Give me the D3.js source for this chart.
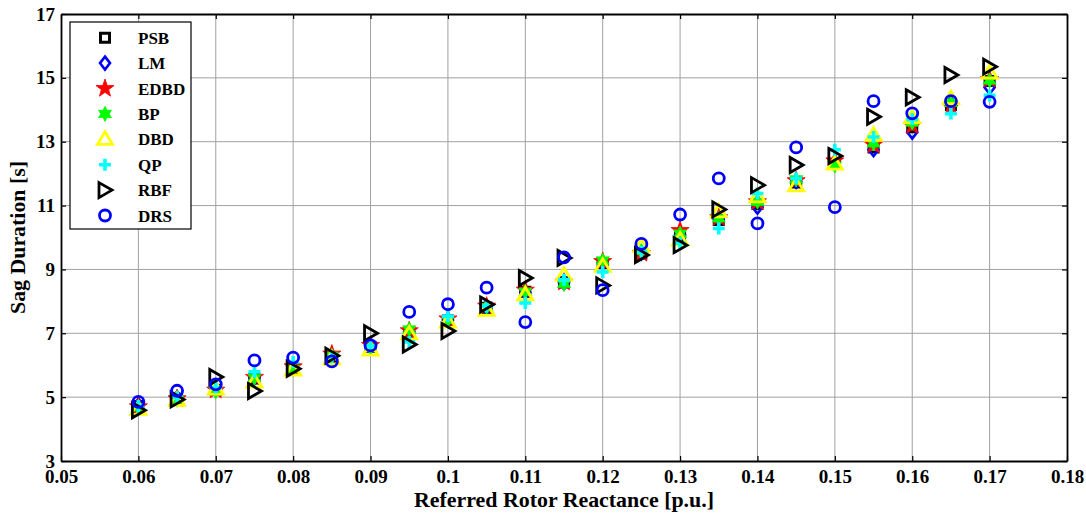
<!DOCTYPE html>
<html>
<head>
<meta charset="utf-8">
<script src="https://cdn.jsdelivr.net/npm/d3@7"></script>
<style>
  body { margin: 0; background: #fff; }
  text { font-family: "Liberation Serif", "Times New Roman", serif; font-weight: bold; }
</style>
</head>
<body>
<div id="chart"></div>
<script>
// x values (referred rotor reactance, p.u.)
const xs = [0.06, 0.065, 0.07, 0.075, 0.08, 0.085, 0.09, 0.095, 0.1, 0.105, 0.11, 0.115,
            0.12, 0.125, 0.13, 0.135, 0.14, 0.145, 0.15, 0.155, 0.16, 0.165, 0.17]

// sag duration per method
const psb  = [4.72, 4.95, 5.22, 5.58, 5.90, 6.25, 6.58, 7.02, 7.40, 7.80, 8.30, 8.60, 9.20, 9.50, 10.05, 10.55, 11.05, 11.72, 12.30, 12.82, 13.45, 14.15, 14.90]
const lm   = [4.75, 4.98, 5.25, 5.60, 5.92, 6.28, 6.60, 7.05, 7.42, 7.82, 8.28, 8.58, 9.20, 9.52, 10.08, 10.58, 10.95, 11.75, 12.35, 12.75, 13.30, 14.20, 14.70]
const edbd = [4.70, 4.95, 5.22, 5.62, 5.95, 6.35, 6.62, 7.08, 7.45, 7.85, 8.35, 8.60, 9.25, 9.50, 10.22, 10.62, 11.12, 11.78, 12.40, 12.90, 13.50, 14.10, 14.95]
const bp   = [4.68, 4.92, 5.18, 5.60, 5.88, 6.30, 6.55, 7.12, 7.42, 7.82, 8.30, 8.55, 9.28, 9.58, 10.12, 10.60, 11.12, 11.82, 12.25, 12.95, 13.60, 14.22, 14.92]
const dbd  = [4.62, 4.90, 5.25, 5.47, 5.85, 6.20, 6.47, 6.98, 7.35, 7.72, 8.20, 8.82, 9.10, 9.72, 9.92, 10.80, 11.27, 11.62, 12.30, 13.20, 13.75, 14.35, 15.15]
const qp   = [4.72, 5.00, 5.30, 5.79, 6.10, 6.25, 6.60, 6.73, 7.53, 7.85, 7.95, 8.68, 8.92, 9.55, 9.82, 10.28, 11.38, 11.85, 12.75, 13.15, 13.70, 13.88, 14.45]
const rbf  = [4.59, 4.93, 5.63, 5.19, 5.89, 6.30, 7.00, 6.65, 7.07, 7.90, 8.73, 9.36, 8.50, 9.45, 9.76, 10.88, 11.64, 12.27, 12.55, 13.78, 14.39, 15.09, 15.35]
const drs  = [4.85, 5.20, 5.40, 6.15, 6.24, 6.12, 6.62, 7.67, 7.91, 8.43, 7.35, 9.38, 8.35, 9.80, 10.72, 11.85, 10.44, 12.82, 10.95, 14.27, 13.89, 14.27, 14.25]

const xTicks = [0.05, 0.06, 0.07, 0.08, 0.09, 0.1, 0.11, 0.12, 0.13, 0.14, 0.15, 0.16, 0.17, 0.18]
const yTicks = [3, 5, 7, 9, 11, 13, 15, 17]

const width = 1086, height = 515
const margin = {left: 61, right: 19, top: 14, bottom: 54}

// marker shapes, drawn around (0,0)
function starPath(n, ro, ri) {
  let p = []
  for (let i = 0; i < 2 * n; i++) {
    let r = i % 2 == 0 ? ro : ri
    let a = -Math.PI / 2 + i * Math.PI / n
    p.push([r * Math.cos(a), r * Math.sin(a)])
  }
  return "M" + p.map(d => d[0].toFixed(2) + "," + d[1].toFixed(2)).join("L") + "Z"
}

const shapes = {
  square:  "M-4.5,-4.5H4.5V4.5H-4.5Z",
  diamond: "M0,-6.5L5,0L0,6.5L-5,0Z",
  penta:   starPath(5, 9.5, 3.8),
  hexa:    starPath(6, 7.5, 4.1),
  tri:     "M0,-7.5L7.5,5L-7.5,5Z",
  plus:    "M-6,0H6M0,-6V6",
  right:   "M-6,-7.5L7,0L-6,7.5Z",
  circle:  "M5.5,0A5.5,5.5 0 1,1 -5.5,0A5.5,5.5 0 1,1 5.5,0Z"
}

const series = [
  {name: "PSB",  values: psb,  shape: "square",  stroke: "#000", fill: "none", sw: 3},
  {name: "LM",   values: lm,   shape: "diamond", stroke: "#0000ff", fill: "none", sw: 2.6},
  {name: "EDBD", values: edbd, shape: "penta",   stroke: "#ff0000", fill: "#ff0000", sw: 0.8},
  {name: "BP",   values: bp,   shape: "hexa",    stroke: "#00ff00", fill: "#00ff00", sw: 0.8},
  {name: "DBD",  values: dbd,  shape: "tri",     stroke: "#ffff00", fill: "none", sw: 2.8},
  {name: "QP",   values: qp,   shape: "plus",    stroke: "#00ffff", fill: "none", sw: 3.6},
  {name: "RBF",  values: rbf,  shape: "right",   stroke: "#000", fill: "none", sw: 2.8},
  {name: "DRS",  values: drs,  shape: "circle",  stroke: "#0000ff", fill: "none", sw: 2.8}
]

let svg = d3.select("#chart").append("svg")
  .attr("width", width)
  .attr("height", height)

let x = d3.scaleLinear().domain([0.05, 0.18]).range([margin.left, width - margin.right])
let y = d3.scaleLinear().domain([3, 17]).range([height - margin.bottom, margin.top])

// grid
svg.append("g").selectAll("line").data(xTicks.slice(1, -1)).enter().append("line")
  .attr("x1", d => x(d)).attr("x2", d => x(d))
  .attr("y1", y(3)).attr("y2", y(17))
  .attr("stroke", "#a0a0a0").attr("stroke-width", 1)
svg.append("g").selectAll("line").data(yTicks.slice(1, -1)).enter().append("line")
  .attr("x1", x(0.05)).attr("x2", x(0.18))
  .attr("y1", d => y(d)).attr("y2", d => y(d))
  .attr("stroke", "#a0a0a0").attr("stroke-width", 1)

// axes with inward ticks on all four sides
let fmt = d => d3.format("")(+d.toFixed(2))
svg.append("g")
  .attr("transform", "translate(0," + y(3) + ")")
  .call(d3.axisBottom(x).tickValues(xTicks).tickSizeInner(-5).tickSizeOuter(0).tickPadding(9).tickFormat(fmt))
svg.append("g")
  .attr("transform", "translate(" + x(0.05) + ",0)")
  .call(d3.axisLeft(y).tickValues(yTicks).tickSizeInner(-5).tickSizeOuter(0).tickPadding(6))
svg.append("g")
  .attr("transform", "translate(0," + y(17) + ")")
  .call(d3.axisTop(x).tickValues(xTicks).tickSizeInner(-5).tickSizeOuter(0).tickFormat(""))
svg.append("g")
  .attr("transform", "translate(" + x(0.18) + ",0)")
  .call(d3.axisRight(y).tickValues(yTicks).tickSizeInner(-5).tickSizeOuter(0).tickFormat(""))

svg.selectAll(".domain").attr("stroke", "#000").attr("stroke-width", 1.8)
svg.selectAll(".tick line").attr("stroke", "#000").attr("stroke-width", 1.2)
svg.selectAll(".tick text")
  .attr("fill", "#000")
  .style("font-size", "19px")
  .style("font-family", "'Liberation Serif', serif")
  .style("font-weight", "bold")

// axis titles
svg.append("text")
  .attr("x", (x(0.05) + x(0.18)) / 2)
  .attr("y", 507)
  .attr("text-anchor", "middle")
  .attr("textLength", 300)
  .attr("lengthAdjust", "spacingAndGlyphs")
  .style("font-size", "21px")
  .text("Referred Rotor Reactance [p.u.]")
svg.append("text")
  .attr("transform", "translate(25," + (y(3) + y(17)) / 2 + ") rotate(-90)")
  .attr("text-anchor", "middle")
  .attr("textLength", 153)
  .attr("lengthAdjust", "spacingAndGlyphs")
  .style("font-size", "21px")
  .text("Sag Duration [s]")

// data markers, drawn series by series in legend order
let marks = svg.append("g")
series.forEach(s => {
  marks.append("g").selectAll("path")
    .data(s.values.map((v, i) => [xs[i], v]))
    .enter().append("path")
    .attr("d", shapes[s.shape])
    .attr("transform", d => "translate(" + x(d[0]) + "," + y(d[1]) + ")")
    .attr("fill", s.fill)
    .attr("stroke", s.stroke)
    .attr("stroke-width", s.sw)
})

// legend
let legend = svg.append("g")
legend.append("rect")
  .attr("x", 70).attr("y", 22).attr("width", 121).attr("height", 207)
  .attr("fill", "#fff").attr("stroke", "#000").attr("stroke-width", 1.2)

let rows = legend.selectAll("g.row").data(series).enter().append("g")
  .attr("class", "row")
  .attr("transform", (d, i) => "translate(0," + (37.7 + i * 25.4) + ")")
rows.append("path")
  .attr("d", d => shapes[d.shape])
  .attr("transform", "translate(105,0)")
  .attr("fill", d => d.fill)
  .attr("stroke", d => d.stroke)
  .attr("stroke-width", d => d.sw)
rows.append("text")
  .attr("x", 138)
  .attr("y", 6)
  .style("font-size", "17px")
  .text(d => d.name)
</script>
</body>
</html>
